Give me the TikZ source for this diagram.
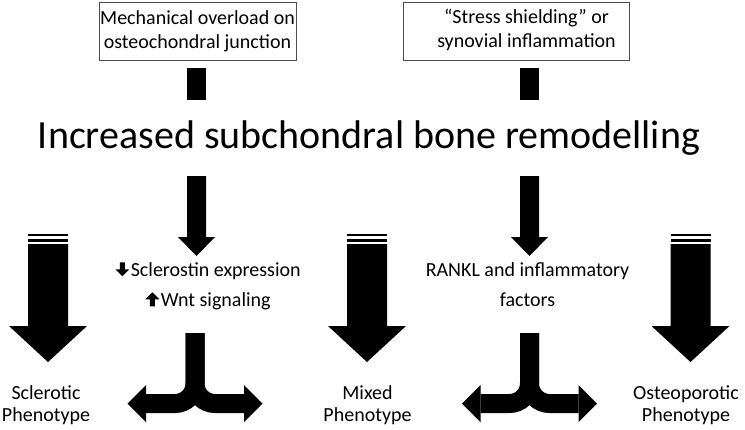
\documentclass[tikz,border=0pt]{standalone}
\usepackage{fontspec}
\setmainfont{Carlito}
\usetikzlibrary{positioning}
\tikzset{
    causebox/.style={rectangle, draw=black!70, line width=0.9pt, minimum width=197pt,
        minimum height=58pt, inner sep=0pt, align=center, font=\fontsize{20}{24}\selectfont},
    stubbar/.style={rectangle, fill=black, minimum width=19pt, minimum height=32pt, inner sep=0pt},
    titletext/.style={inner sep=0pt, font=\fontsize{40}{48}\selectfont},
    steptext/.style={align=center, inner sep=0pt, font=\fontsize{20}{30}\selectfont},
    phenotext/.style={align=center, inner sep=0pt, font=\fontsize{20}{21.5}\selectfont},
    bigarrow/.pic={
        \fill (-20,234) rectangle (20,236);
        \fill (-20,238.5) rectangle (20,241.5);
        \fill (-20,244) -- (20,244) -- (20,326) -- (39,326) -- (0,362) -- (-39,326) -- (-20,326) -- cycle;
    },
    midarrow/.pic={
        \fill (-9.5,176) -- (9.5,176) -- (9.5,237) -- (18.5,237) -- (0,256) -- (-18.5,237) -- (-9.5,237) -- cycle;
    },
    splitarrow/.pic={
        \draw[line width=19pt, rounded corners=20pt] (0,333) |- (-49,403.5);
        \draw[line width=19pt, rounded corners=20pt] (0,333) |- (49,403.5);
        \fill (-49,385) -- (-67.5,403.5) -- (-49,422) -- cycle;
        \fill (49,385) -- (67.5,403.5) -- (49,422) -- cycle;
    },
}
\newcommand\dnglyph{\tikz[baseline=0pt, x=1pt, y=1pt]\fill (-2.5,14) -- (2.5,14) -- (2.5,7) -- (7,7) -- (0,0) -- (-7,7) -- (-2.5,7) -- cycle;}
\newcommand\upglyph{\tikz[baseline=0pt, x=1pt, y=1pt]\fill (-2.5,0) -- (2.5,0) -- (2.5,7) -- (7,7) -- (0,14) -- (-7,7) -- (-2.5,7) -- cycle;}

\begin{document}
\begin{tikzpicture}[x=1pt, y=-1pt]
    \useasboundingbox (0,0) rectangle (745,429);

    % the two causes on top
    \node[causebox] (mech) at (197.5,31) {Mechanical overload on\\osteochondral junction};
    \node[causebox, minimum width=226pt] (stress) at (516,31)
        {\hspace*{21pt}\begin{tabular}{@{}c@{}}“Stress shielding” or\\synovial inflammation\end{tabular}};
    \node[stubbar, below=7pt of mech.south, xshift=-1pt] (mechstub) {};
    \node[stubbar, below=7pt of stress.south, xshift=13.5pt] (stressstub) {};

    \node[titletext, anchor=base] (remodel) at (369,148) {Increased subchondral bone remodelling};

    % pathways
    \pic at (196.5,0) {midarrow};
    \pic at (529.5,0) {midarrow};
    \node[steptext] (sclero) at (208,286) {\dnglyph\hspace{1.5pt}Sclerostin expression\\\upglyph\hspace{1.5pt}Wnt signaling};
    \node[steptext] (rankl) at (527.5,284.5) {RANKL and inflammatory\\factors};

    % phenotypes
    \pic at (48,0) {bigarrow};
    \pic at (367,0) {bigarrow};
    \pic at (690.5,0) {bigarrow};
    \pic at (195,0) {splitarrow};
    \pic at (529.5,0) {splitarrow};

    \node[phenotext] (scl) at (46,405) {Sclerotic\\Phenotype};
    \node[phenotext] (mix) at (367.5,405) {Mixed\\Phenotype};
    \node[phenotext] (ost) at (686,405) {Osteoporotic\\Phenotype};
\end{tikzpicture}
\end{document}
